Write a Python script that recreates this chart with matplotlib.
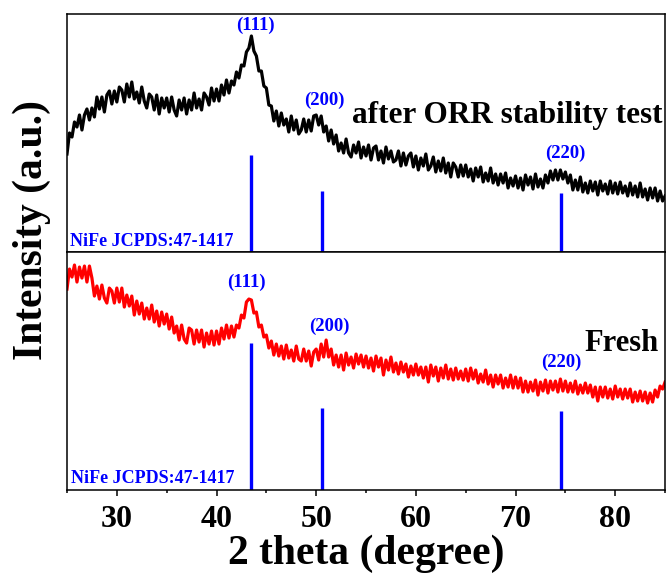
import numpy as np
import matplotlib
matplotlib.use('Agg')
import matplotlib.pyplot as plt
from matplotlib.ticker import MultipleLocator

plt.rcParams['font.family'] = ['Liberation Serif', 'DejaVu Serif']
plt.rcParams['font.weight'] = 'bold'

# 2 theta grid, 0.25 degree steps from 25 to 85
two_theta = np.arange(25.0, 85.01, 0.25)

# after ORR stability test (arb. units)
after_orr = [
    98, 119, 115, 130, 125, 137, 122, 137, 143, 132, 144, 135, 155, 143, 155, 140, 157, 161, 148, 161,
    150, 165, 162, 150, 168, 155, 170, 153, 160, 149, 165, 151, 144, 158, 155, 142, 157, 138, 154, 144,
    154, 140, 155, 142, 136, 152, 142, 154, 138, 152, 142, 159, 144, 153, 142, 159, 155, 147, 164, 151,
    163, 151, 167, 157, 172, 159, 171, 167, 180, 174, 187, 186, 200, 204, 216, 201, 196, 181, 181, 166,
    164, 147, 146, 131, 141, 126, 139, 127, 133, 120, 136, 122, 132, 118, 122, 133, 120, 132, 121, 136,
    137, 127, 136, 120, 126, 111, 122, 108, 117, 101, 109, 99, 113, 99, 95, 107, 99, 110, 94, 105,
    96, 107, 92, 104, 106, 92, 101, 89, 105, 93, 101, 90, 92, 101, 86, 99, 87, 96, 99, 85,
    96, 82, 94, 86, 98, 82, 86, 95, 80, 91, 81, 94, 79, 89, 75, 89, 85, 75, 87, 76,
    87, 75, 83, 71, 84, 75, 85, 70, 79, 71, 84, 69, 78, 67, 78, 69, 79, 64, 74, 66,
    76, 64, 74, 62, 77, 67, 75, 63, 78, 65, 73, 64, 77, 69, 81, 72, 82, 72, 82, 73,
    80, 69, 77, 62, 72, 62, 75, 60, 69, 59, 71, 61, 70, 57, 71, 61, 68, 58, 71, 59,
    69, 58, 70, 59, 66, 56, 69, 57, 66, 55, 69, 55, 63, 52, 64, 54, 64, 51, 61, 51,
    56,
]

# fresh sample
fresh = [
    201, 221, 213, 225, 208, 223, 212, 224, 208, 224, 212, 194, 204, 191, 205, 192, 187, 202, 199, 187,
    202, 188, 202, 183, 195, 184, 194, 175, 189, 176, 187, 171, 182, 171, 185, 168, 179, 164, 178, 166,
    176, 161, 173, 157, 164, 150, 165, 151, 147, 162, 160, 146, 160, 148, 160, 143, 157, 146, 159, 145,
    159, 146, 162, 151, 165, 152, 164, 153, 165, 162, 175, 172, 188, 191, 190, 177, 178, 163, 165, 153,
    155, 142, 149, 135, 146, 134, 144, 131, 145, 132, 140, 129, 144, 131, 129, 141, 129, 139, 124, 138,
    141, 130, 146, 133, 150, 133, 141, 125, 135, 123, 135, 120, 137, 125, 133, 122, 136, 126, 135, 123,
    134, 122, 132, 119, 134, 123, 132, 115, 130, 120, 133, 118, 127, 116, 128, 118, 126, 113, 124, 115,
    126, 115, 123, 112, 123, 108, 125, 114, 123, 109, 122, 112, 125, 111, 121, 110, 122, 111, 119, 110,
    121, 109, 122, 111, 120, 107, 116, 108, 120, 106, 115, 103, 115, 106, 115, 102, 112, 103, 115, 102,
    113, 102, 112, 98, 109, 98, 108, 99, 110, 95, 108, 99, 110, 97, 109, 100, 109, 98, 111, 99,
    109, 98, 107, 98, 109, 96, 105, 97, 107, 97, 105, 93, 103, 89, 103, 93, 103, 92, 101, 91,
    104, 93, 101, 91, 101, 92, 101, 88, 98, 89, 99, 89, 98, 87, 97, 88, 100, 93, 104, 101,
    108,
]

# NiFe reference lines (JCPDS 47-1417)
ref_pos = [43.5, 50.6, 74.6]
ref_hkl = ['(111)', '(200)', '(220)']
ref_top = [97, 61, 59]
ref_bottom = [147, 82, 79]

fig = plt.figure(figsize=(6.66, 5.74), dpi=100)
ax1 = fig.add_axes([0.1006, 0.561, 0.898, 0.4146])
ax2 = fig.add_axes([0.1006, 0.1463, 0.898, 0.4146])

blue = '#0000ff'

ax1.plot(two_theta, after_orr, '-', color='black', lw=2.3)
ax1.vlines(ref_pos, 0, ref_top, color=blue, lw=2.4)
ax2.plot(two_theta, fresh, '-', color='#ff0000', lw=2.3)
ax2.vlines(ref_pos, 0, ref_bottom, color=blue, lw=2.4)

# hkl labels
top_lbl = [(43.9, 227), (50.8, 152), (75.0, 99)]
bot_lbl = [(43.0, 208), (51.3, 164), (74.6, 128)]
for (x, y), t in zip(top_lbl, ref_hkl):
    ax1.text(x, y, t, color=blue, fontsize=13.5, ha='center', va='center')
for (x, y), t in zip(bot_lbl, ref_hkl):
    ax2.text(x, y, t, color=blue, fontsize=13.5, ha='center', va='center')

ax1.text(84.75, 136, 'after ORR stability test', fontsize=22.5, ha='right', va='center')
ax2.text(84.4, 147, 'Fresh', fontsize=22, ha='right', va='center')
ax1.text(25.3, 10, 'NiFe JCPDS:47-1417', color=blue, fontsize=13, ha='left', va='center')
ax2.text(25.4, 12, 'NiFe JCPDS:47-1417', color=blue, fontsize=13, ha='left', va='center')

for ax in (ax1, ax2):
    ax.set_xlim(25, 85)
    ax.set_ylim(0, 238)
    ax.set_yticks([])
    for s in ax.spines.values():
        s.set_linewidth(1.1)

ax1.set_xticks([])
ax2.xaxis.set_major_locator(MultipleLocator(10))
ax2.xaxis.set_minor_locator(MultipleLocator(5))
ax2.tick_params(axis='x', which='major', direction='out', length=4.5, width=1.1,
                labelsize=23, pad=6)
ax2.tick_params(axis='x', which='minor', direction='out', length=2.5, width=1.1)
for lab in ax2.get_xticklabels():
    lab.set_fontweight('bold')

fig.text(0.55, 0.018, '2 theta (degree)', fontsize=30, ha='center', va='baseline')
fig.text(0.047, 0.599, 'Intensity (a.u.)', fontsize=30, rotation=90, ha='center', va='center')

plt.savefig('out.png', dpi=100)
